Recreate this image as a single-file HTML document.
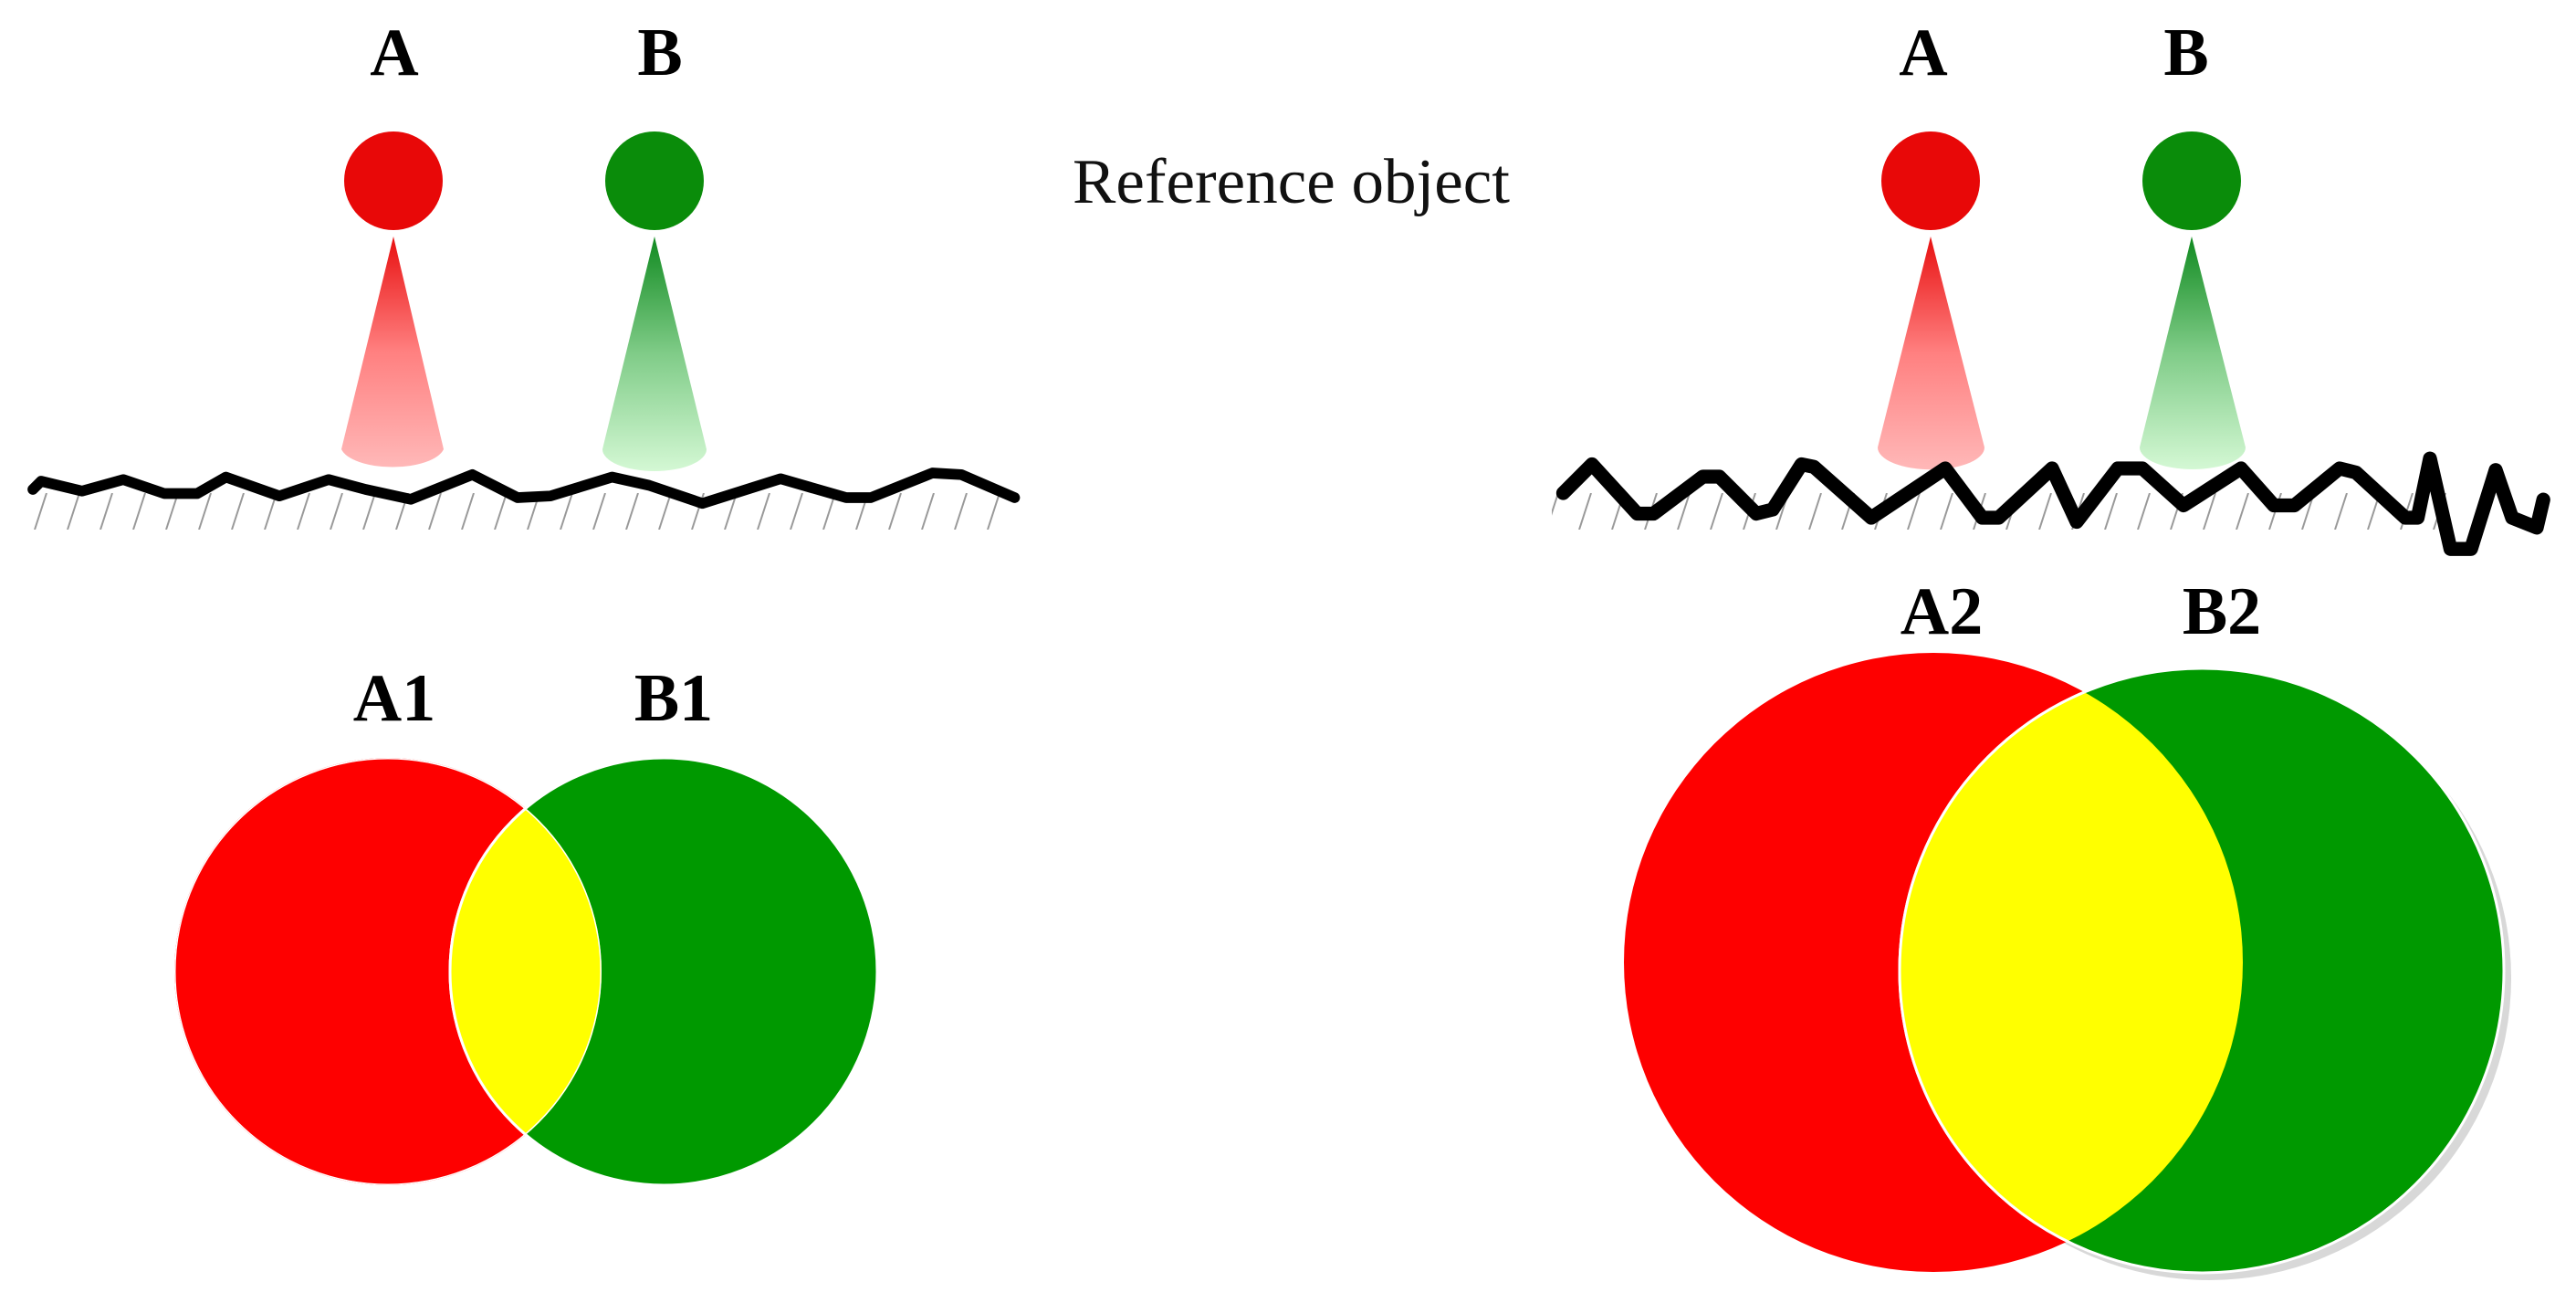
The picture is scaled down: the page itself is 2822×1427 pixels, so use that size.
<!DOCTYPE html>
<html><head><meta charset="utf-8"><style>html,body{margin:0;padding:0;background:#fff;}svg{display:block}</style></head>
<body>
<svg width="2822" height="1427" viewBox="0 0 2822 1427" xmlns="http://www.w3.org/2000/svg">
<defs>
<linearGradient id="rg" x1="0" y1="0" x2="0" y2="1"><stop offset="0" stop-color="#e81010"/><stop offset="0.5" stop-color="#ff8080"/><stop offset="1" stop-color="#ffb8b8"/></linearGradient>
<linearGradient id="gg" x1="0" y1="0" x2="0" y2="1"><stop offset="0" stop-color="#108a20"/><stop offset="0.5" stop-color="#80cc88"/><stop offset="1" stop-color="#d4f8d4"/></linearGradient>
<pattern id="hatch" x="0" y="540" width="36" height="40" patternUnits="userSpaceOnUse"><line x1="2" y1="40" x2="15" y2="0" stroke="#999" stroke-width="2"/></pattern>
<clipPath id="cR1"><circle cx="425" cy="1064" r="234"/></clipPath>
<clipPath id="cR2"><circle cx="2118" cy="1054" r="339"/></clipPath>
</defs>
<g font-family="'Liberation Serif',serif" font-weight="bold" font-size="74" text-anchor="middle" fill="#000">
<text x="432" y="82">A</text><text x="723" y="82">B</text>
<text x="2107" y="82">A</text><text x="2395" y="82">B</text>
<text x="432" y="789">A1</text><text x="738" y="789">B1</text>
<text x="2127" y="694">A2</text><text x="2434" y="694">B2</text>
</g>
<text x="1175" y="222" font-family="'Liberation Serif',serif" font-size="70" fill="#111" textLength="479" lengthAdjust="spacingAndGlyphs">Reference object</text>
<!-- hatch -->
<rect x="24" y="540" width="1090" height="40" fill="url(#hatch)"/>
<rect x="1700" y="540" width="1000" height="40" fill="url(#hatch)"/>
<!-- lamps left -->
<circle cx="431" cy="198" r="54" fill="#e80808"/>
<path d="M431 259 L374 492 A57 24 0 0 0 486 492 Z" fill="url(#rg)"/>
<circle cx="717" cy="198" r="54" fill="#0a8c0a"/>
<path d="M717 259 L660 492 A57 24 0 0 0 774 492 Z" fill="url(#gg)"/>
<!-- lamps right -->
<circle cx="2115" cy="198" r="54" fill="#e80808"/>
<path d="M2115 259 L2057 490 A58 24 0 0 0 2174 490 Z" fill="url(#rg)"/>
<circle cx="2401" cy="198" r="54" fill="#0a8c0a"/>
<path d="M2401 259 L2344 490 A58 24 0 0 0 2460 490 Z" fill="url(#gg)"/>
<!-- wavy lines -->
<g transform="translate(0,5) scale(0.9)" fill="none" stroke="#000" stroke-linejoin="round" stroke-linecap="round">
<path stroke-width="13" d="M40 590 L50 580 L100 592 L150 578 L200 595 L240 595 L275 575 L340 598 L400 578 L445 590 L500 602 L575 572 L630 600 L670 598 L745 575 L790 585 L855 607 L950 577 L1030 600 L1060 600 L1135 570 L1170 572 L1235 600"/>
</g>
<g transform="translate(1411,9) scale(0.9)" fill="none" stroke="#000" stroke-linejoin="round" stroke-linecap="round">
<path stroke-width="17" d="M335 590 L370 555 L425 615 L445 615 L505 570 L525 570 L570 615 L590 610 L625 555 L640 558 L710 620 L800 560 L845 620 L865 620 L930 560 L960 625 L1010 560 L1040 560 L1090 605 L1160 560 L1200 605 L1225 605 L1280 560 L1300 565 L1360 620 L1375 620 L1390 548 L1415 658 L1440 658 L1470 562 L1490 620 L1520 632 L1528 598"/>
</g>
<!-- venn left -->
<circle cx="425" cy="1064" r="234" fill="#fe0000"/>
<circle cx="727" cy="1064" r="234" fill="#009900" stroke="#fff" stroke-width="3"/>
<circle cx="727" cy="1064" r="234" fill="#ffff00" clip-path="url(#cR1)"/>
<circle cx="425" cy="1064" r="234" fill="none" stroke="#fff" stroke-width="3" clip-path="url(#cR1)"/>
<circle cx="727" cy="1064" r="234" fill="none" stroke="#fff" stroke-width="3" clip-path="url(#cR1)"/>
<!-- venn right -->
<circle cx="2420" cy="1071" r="331" fill="#d8d8d8"/>
<circle cx="2118" cy="1054" r="339" fill="#fe0000"/>
<circle cx="2412" cy="1063" r="331" fill="#009900" stroke="#fff" stroke-width="3"/>
<circle cx="2412" cy="1063" r="331" fill="#ffff00" clip-path="url(#cR2)"/>
<circle cx="2412" cy="1063" r="331" fill="none" stroke="#fff" stroke-width="3" clip-path="url(#cR2)"/>
</svg>
</body></html>
